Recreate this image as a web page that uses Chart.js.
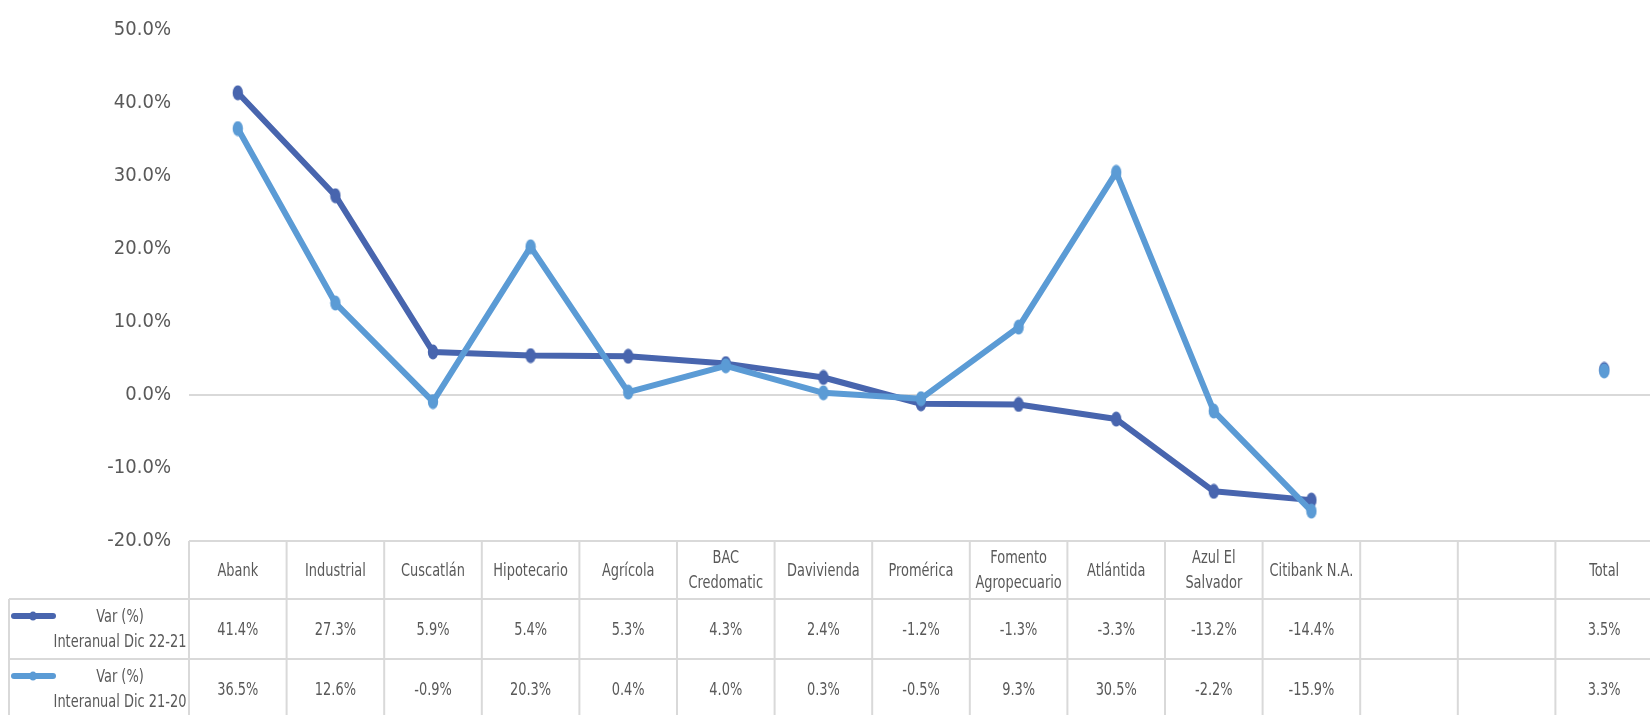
<!DOCTYPE html>
<html>
<head>
<meta charset="utf-8">
<script src="https://cdn.jsdelivr.net/npm/chart.js@4/dist/chart.umd.min.js"></script>
<style>
html,body{margin:0;padding:0;background:#fff;overflow:hidden;}
canvas{display:block;}
</style>
</head>
<body>
<canvas id="c" width="1665" height="720"></canvas>
<script>
const categories = ['Abank','Industrial','Cuscatlán','Hipotecario','Agrícola',['BAC','Credomatic'],'Davivienda','Promérica',['Fomento','Agropecuario'],'Atlántida',['Azul El','Salvador'],'Citibank N.A.','','','Total'];
const varDic2221 = [41.4,27.3,5.9,5.4,5.3,4.3,2.4,-1.2,-1.3,-3.3,-13.2,-14.4,null,null,3.5];
const varDic2120 = [36.5,12.6,-0.9,20.3,0.4,4.0,0.3,-0.5,9.3,30.5,-2.2,-15.9,null,null,3.3];
const seriesNames = [['Var (%)','Interanual Dic 22-21'],['Var (%)','Interanual Dic 21-20']];
const yTicks = [-20,-10,0,10,20,30,40,50];

const FONT = '"Liberation Sans Narrow", "DejaVu Sans Condensed", sans-serif';
const TXT = '#595959';
const colors = ['#4865ae','#5b9bd5'];

function ellipseMarker(color){
  const c=document.createElement('canvas'); c.width=12; c.height=16;
  const g=c.getContext('2d'); g.fillStyle=color;
  g.beginPath(); g.ellipse(6,8,5.2,7.5,0,0,Math.PI*2); g.fill();
  return c;
}

const seriesValues = [varDic2221, varDic2120];

function narrowText(ctx,t,x,y){
  ctx.save(); ctx.translate(x,y); ctx.scale(0.8,1); ctx.fillText(t,0,0); ctx.restore();
}

const tablePlugin = {
  id:'dataTable',
  afterDraw(chart){
    const ctx=chart.ctx, xs=chart.scales.x, area=chart.chartArea;
    const n=categories.length;
    const colW = xs.getPixelForValue(1)-xs.getPixelForValue(0);
    const left0 = xs.getPixelForValue(0)-colW/2;
    const right = left0+n*colW;
    const top = area.bottom, hdrH=58, rowH=60, legL=9;
    const bottom = top+hdrH+2*rowH;
    ctx.save();
    ctx.strokeStyle='#d9d9d9'; ctx.lineWidth=2;
    const ln=(a,b,c,d)=>{ctx.beginPath();ctx.moveTo(a,b);ctx.lineTo(c,d);ctx.stroke();};
    ln(left0,top,right,top);
    for(let r=0;r<=2;r++){ const y=top+hdrH+r*rowH; ln(legL,y,right,y); }
    for(let i=0;i<=n;i++){ const x=left0+i*colW; ln(x,top,x,bottom); }
    ln(legL,top+hdrH,legL,bottom);
    ctx.fillStyle=TXT; ctx.textAlign='center'; ctx.textBaseline='middle';
    ctx.font='18px '+FONT;
    categories.forEach((lab,i)=>{
      const x=xs.getPixelForValue(i);
      const lines=Array.isArray(lab)?lab:[lab];
      const cy=top+hdrH/2+1;
      lines.forEach((t,k)=>narrowText(ctx,t,x,cy+(k-(lines.length-1)/2)*25));
    });
    seriesValues.forEach((vals,s)=>{
      const rt=top+hdrH+s*rowH;
      vals.forEach((v,i)=>{
        if(v===null) return;
        narrowText(ctx,v.toFixed(1)+'%', xs.getPixelForValue(i), rt+rowH/2+1);
      });
      ctx.strokeStyle=colors[s]; ctx.lineWidth=6; ctx.lineCap='round';
      ln(14,rt+17,53,rt+17);
      ctx.fillStyle=colors[s]; ctx.beginPath(); ctx.ellipse(33,rt+17,3.5,4.5,0,0,Math.PI*2); ctx.fill();
      ctx.fillStyle=TXT;
      narrowText(ctx,seriesNames[s][0],120,rt+18);
      narrowText(ctx,seriesNames[s][1],120,rt+43);
    });
    ctx.restore();
  }
};

new Chart(document.getElementById('c'),{
  type:'line',
  data:{
    labels:categories,
    datasets:[
      {label:seriesNames[0].join(' '),data:varDic2221,borderColor:colors[0],backgroundColor:colors[0],borderWidth:6,
       pointStyle:ellipseMarker(colors[0]),pointRadius:6,spanGaps:false,order:1,borderCapStyle:'round',borderJoinStyle:'round'},
      {label:seriesNames[1].join(' '),data:varDic2120,borderColor:colors[1],backgroundColor:colors[1],borderWidth:6,
       pointStyle:ellipseMarker(colors[1]),pointRadius:6,spanGaps:false,order:0,borderCapStyle:'round',borderJoinStyle:'round'}
    ]
  },
  options:{
    responsive:false,animation:false,
    layout:{padding:{top:25,right:6,left:0,bottom:0}},
    plugins:{legend:{display:false},tooltip:{enabled:false}},
    scales:{
      x:{offset:true,grid:{display:false},border:{display:false},ticks:{display:false},
         afterFit(s){s.height=179;}},
      y:{min:-20,max:50,
         afterBuildTicks(s){s.ticks=yTicks.map(v=>({value:v}));},
         afterFit(s){s.width=189;},
         border:{display:false},
         grid:{drawTicks:false,lineWidth:2,color:c=>c.tick && c.tick.value===0?'#d9d9d9':'rgba(0,0,0,0)'},
         ticks:{padding:18,color:TXT,font:{family:FONT,size:20},callback:v=>v.toFixed(1)+'%'}}
    }
  },
  plugins:[tablePlugin]
});
</script>
</body>
</html>
